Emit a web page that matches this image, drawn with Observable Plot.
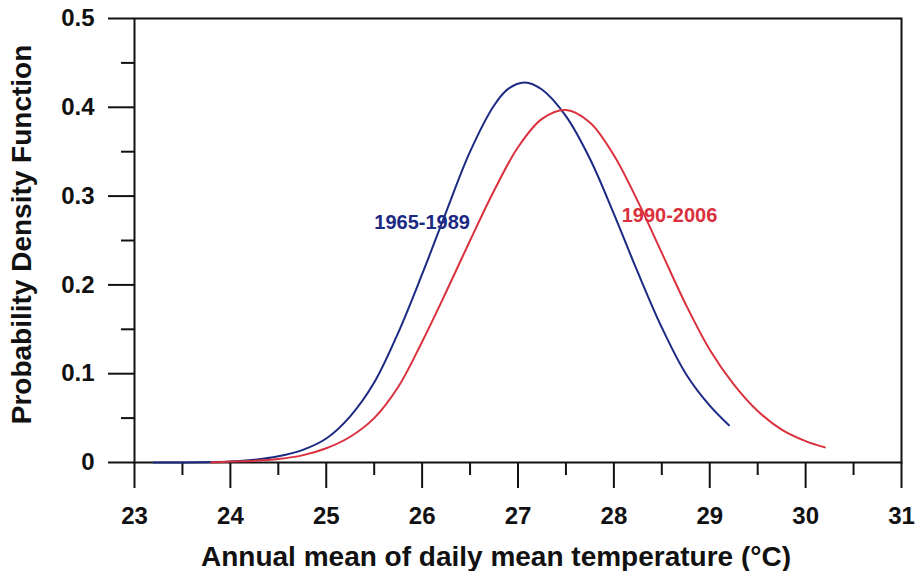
<!DOCTYPE html>
<html>
<head>
<meta charset="utf-8">
<script src="https://cdn.jsdelivr.net/npm/d3@7"></script>
<script src="https://cdn.jsdelivr.net/npm/@observablehq/plot@0.6"></script>
<style>
  html, body { margin: 0; padding: 0; background: #ffffff; }
  #chart svg { display: block; }
</style>
</head>
<body>
<div id="chart"></div>
<script>
// Series 1965-1989 (blue)
const blueX = [23.2, 23.5, 24.0, 24.25, 24.5, 24.75, 25.0, 25.25, 25.5, 25.75, 26.0, 26.25, 26.5, 26.75, 26.9, 27.07, 27.25, 27.5, 27.75, 28.0, 28.25, 28.5, 28.75, 29.0, 29.2];
const blueY = [0.000, 0.000, 0.001, 0.003, 0.007, 0.014, 0.027, 0.052, 0.090, 0.146, 0.212, 0.282, 0.350, 0.402, 0.421, 0.428, 0.420, 0.390, 0.342, 0.280, 0.214, 0.152, 0.100, 0.064, 0.042];
// Series 1990-2006 (red)
const redX = [23.8, 24.0, 24.25, 24.5, 24.75, 25.0, 25.25, 25.5, 25.75, 26.0, 26.25, 26.5, 26.75, 27.0, 27.25, 27.5, 27.75, 28.0, 28.25, 28.5, 28.75, 29.0, 29.25, 29.5, 29.75, 30.0, 30.2];
const redY = [0.000, 0.001, 0.002, 0.004, 0.008, 0.016, 0.029, 0.050, 0.085, 0.136, 0.192, 0.250, 0.306, 0.355, 0.387, 0.397, 0.383, 0.346, 0.294, 0.236, 0.178, 0.127, 0.088, 0.058, 0.037, 0.024, 0.017];

const seriesNames = ["1965-1989", "1990-2006"];
const seriesColors = ["#1c2a84", "#d9323e"];
const labelX = [26.0, 28.58];
const labelY = [0.270, 0.278];

const xMajor = [23, 24, 25, 26, 27, 28, 29, 30, 31];
const xMinor = [23.5, 24.5, 25.5, 26.5, 27.5, 28.5, 29.5, 30.5];
const yMajor = [0, 0.1, 0.2, 0.3, 0.4, 0.5];
const yMinor = [0.05, 0.15, 0.25, 0.35, 0.45];
const yTickText = ["0", "0.1", "0.2", "0.3", "0.4", "0.5"];

const xTitle = "Annual mean of daily mean temperature (°C)";
const yTitle = "Probability Density Function";

const blue = blueX.map((x, i) => ({x, y: blueY[i]}));
const red = redX.map((x, i) => ({x, y: redY[i]}));
const labels = seriesNames.map((name, i) => ({name, x: labelX[i], y: labelY[i], color: seriesColors[i]}));

const font = "'Liberation Sans', Arial, sans-serif";

const chart = Plot.plot({
  width: 921,
  height: 571,
  marginLeft: 134,
  marginRight: 20,
  marginTop: 18,
  marginBottom: 109,
  style: {fontFamily: font, fontWeight: "bold", fontSize: "24px", color: "#111", background: "#fff", overflow: "visible"},
  x: {domain: [23, 31]},
  y: {domain: [0, 0.5]},
  marks: [
    Plot.frame({stroke: "#111", strokeWidth: 2}),
    Plot.axisX({ticks: xMajor, tickSize: 26, tickPadding: 18, strokeWidth: 2, stroke: "#111",
      tickFormat: d => String(d), fontSize: 24, fontWeight: "bold", label: null}),
    Plot.axisX({ticks: xMinor, tickSize: 13, strokeWidth: 2, stroke: "#111", tickFormat: () => "", label: null}),
    Plot.axisY({ticks: yMajor, tickSize: 26, tickPadding: 14, strokeWidth: 2, stroke: "#111",
      tickFormat: (d) => yTickText[yMajor.indexOf(d)], fontSize: 24, fontWeight: "bold", label: null}),
    Plot.axisY({ticks: yMinor, tickSize: 13, strokeWidth: 2, stroke: "#111", tickFormat: () => "", label: null}),
    Plot.line(blue, {x: "x", y: "y", stroke: seriesColors[0], strokeWidth: 2, curve: "catmull-rom"}),
    Plot.line(red, {x: "x", y: "y", stroke: seriesColors[1], strokeWidth: 2, curve: "catmull-rom"}),
    Plot.text(labels, {x: "x", y: "y", text: "name", fill: "color", fontSize: 20, fontWeight: "bold"}),
    Plot.text([xTitle], {frameAnchor: "bottom", dx: -22, dy: 103, fontSize: 28, fontWeight: "bold", fill: "#111"}),
    Plot.text([yTitle], {frameAnchor: "left", textAnchor: "middle", rotate: -90, dx: -112, dy: -6, fontSize: 28, fontWeight: "bold", fill: "#111"})
  ]
});
document.getElementById("chart").appendChild(chart);
</script>
</body>
</html>
